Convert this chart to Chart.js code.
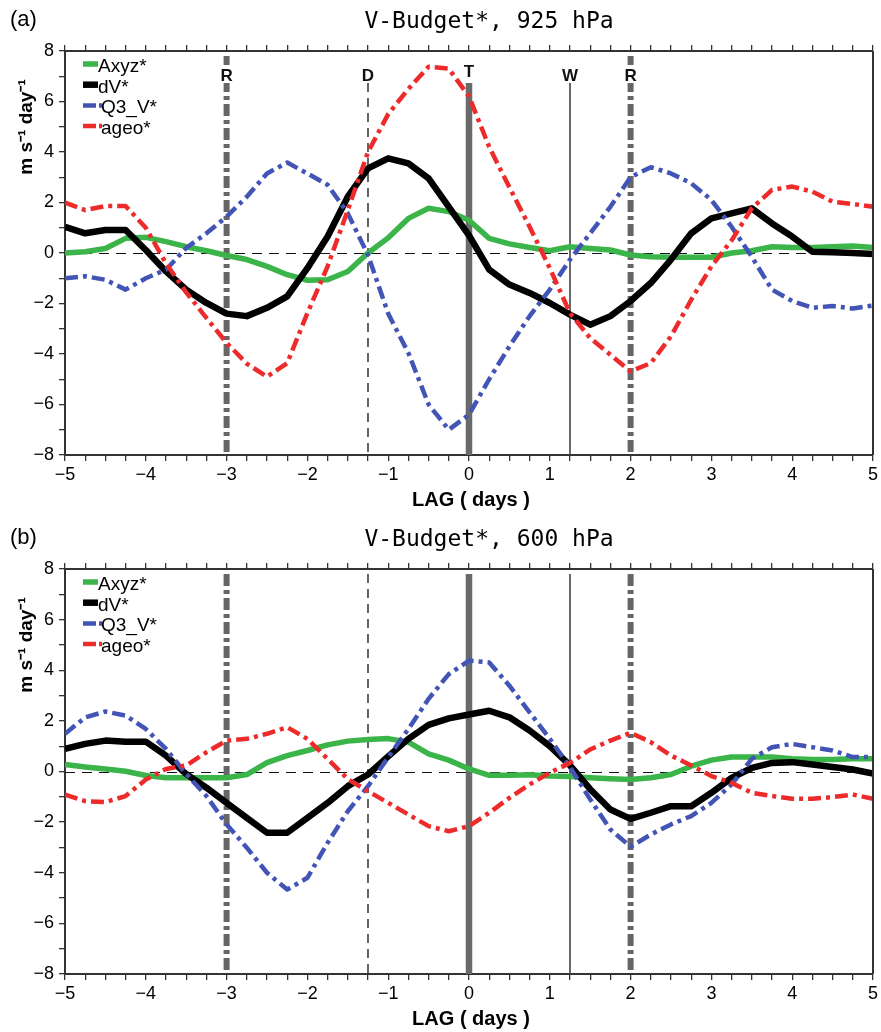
<!DOCTYPE html>
<html>
<head>
<meta charset="utf-8">
<script src="https://cdn.jsdelivr.net/npm/chart.js@4.4.0/dist/chart.umd.min.js"></script>
<style>
  body { margin: 0; background: #fff; }
  #wrap { position: relative; width: 881px; height: 1032px; }
  canvas { position: absolute; left: 0; }
</style>
</head>
<body>
<div id="wrap">
  <canvas id="chartA" width="881" height="518" style="top:0"></canvas>
  <canvas id="chartB" width="881" height="514" style="top:518px"></canvas>
</div>
<script>
// lag in days, every quarter day
const lags = [-5, -4.75, -4.5, -4.25, -4, -3.75, -3.5, -3.25, -3, -2.75, -2.5, -2.25, -2, -1.75, -1.5, -1.25,
              -1, -0.75, -0.5, -0.25, 0, 0.25, 0.5, 0.75, 1, 1.25, 1.5, 1.75, 2, 2.25, 2.5, 2.75,
              3, 3.25, 3.5, 3.75, 4, 4.25, 4.5, 4.75, 5];

// (a) 925 hPa
const axyzA = [0, 0.05, 0.18, 0.58, 0.62, 0.45, 0.25, 0.09, -0.1, -0.26, -0.53, -0.86, -1.08, -1.06, -0.73, 0,
               0.6, 1.37, 1.77, 1.64, 1.3, 0.58, 0.36, 0.22, 0.09, 0.25, 0.18, 0.12, -0.08, -0.15, -0.17, -0.17,
               -0.17, 0, 0.09, 0.25, 0.22, 0.22, 0.25, 0.28, 0.22];
const dvA = [1.04, 0.78, 0.91, 0.91, 0.12, -0.73, -1.45, -1.98, -2.4, -2.5, -2.17, -1.72, -0.6, 0.65, 2.23, 3.35,
             3.75, 3.55, 2.96, 1.83, 0.7, -0.66, -1.25, -1.58, -1.98, -2.44, -2.84, -2.5, -1.9, -1.19, -0.26, 0.78,
             1.37, 1.57, 1.77, 1.17, 0.65, 0.05, 0.03, 0, -0.04];
const q3A = [-1.0, -0.92, -1.06, -1.45, -1.0, -0.66, 0.2, 0.78, 1.44, 2.23, 3.15, 3.58, 3.15, 2.7, 1.57, -0.08,
             -2.4, -3.96, -6.0, -7.0, -6.4, -5.0, -3.7, -2.5, -1.45, -0.26, 0.78, 1.83, 3.0, 3.4, 3.15, 2.76,
             2.1, 1.04, -0.15, -1.45, -1.9, -2.17, -2.1, -2.2, -2.08];
const ageoA = [2.0, 1.7, 1.86, 1.86, 1.0, -0.41, -1.56, -2.57, -3.56, -4.38, -4.9, -4.36, -2.38, -0.53, 1.7, 4.0,
               5.5, 6.5, 7.38, 7.3, 6.2, 4.2, 2.6, 1.04, -0.6, -2.38, -3.37, -4.03, -4.69, -4.36, -3.3, -1.85,
               -0.53, 0.5, 1.77, 2.5, 2.63, 2.43, 2.03, 1.94, 1.83];

// (b) 600 hPa
const axyzB = [0.28, 0.18, 0.1, 0.01, -0.16, -0.25, -0.25, -0.25, -0.25, -0.12, 0.35, 0.63, 0.83, 1.05, 1.2, 1.26,
               1.3, 1.16, 0.7, 0.45, 0.1, -0.15, -0.15, -0.13, -0.18, -0.2, -0.25, -0.29, -0.32, -0.25, -0.12, 0.21,
               0.45, 0.57, 0.57, 0.57, 0.5, 0.47, 0.47, 0.5, 0.5];
const dvB = [0.89, 1.09, 1.22, 1.18, 1.18, 0.63, -0.1, -0.64, -1.24, -1.83, -2.42, -2.42, -1.83, -1.24, -0.58, -0.12,
             0.6, 1.29, 1.84, 2.1, 2.25, 2.4, 2.14, 1.62, 1.0, 0.24, -0.7, -1.5, -1.87, -1.63, -1.37, -1.37,
             -0.84, -0.25, 0.14, 0.34, 0.37, 0.28, 0.18, 0.08, -0.08];
const q3B = [1.49, 2.14, 2.37, 2.21, 1.68, 0.89, -0.1, -0.97, -2.09, -3.01, -4.0, -4.66, -4.2, -2.82, -1.57, -0.58,
             0.56, 1.68, 2.87, 3.85, 4.38, 4.31, 3.39, 2.34, 1.29, 0.17, -1.1, -2.29, -2.97, -2.49, -2.09, -1.76,
             -1.24, -0.51, 0.5, 0.96, 1.09, 0.96, 0.83, 0.57, 0.57];
const ageoB = [-0.91, -1.17, -1.21, -0.97, -0.32, 0.1, 0.24, 0.76, 1.22, 1.29, 1.49, 1.75, 1.29, 0.5, -0.3, -0.78,
               -1.24, -1.7, -2.16, -2.36, -2.16, -1.63, -1.04, -0.51, -0.05, 0.34, 0.87, 1.22, 1.53, 1.16, 0.63, 0.24,
               -0.18, -0.45, -0.84, -0.97, -1.08, -1.08, -1.01, -0.91, -1.08];

const seriesNames = ['Axyz*', 'dV*', 'Q3_V*', 'ageo*'];
const markerLags = [-3, -1.25, 0, 1.25, 2];
const markerNames = ['R', 'D', 'T', 'W', 'R'];

const FONT = "'Liberation Sans', Arial, sans-serif";
const seriesStyle = [
    { color: '#3bb44a', width: 5.5, dash: [] },
    { color: '#000000', width: 6.5, dash: [] },
    { color: '#4254b6', width: 4.5, dash: [13, 5, 4, 5] },
    { color: '#ee2b2b', width: 4.5, dash: [13, 5, 4, 5] }
];
const markerStyle = {
    R: { color: '#666666', width: 6, dash: [12, 4, 4, 4] },
    D: { color: '#111111', width: 1.3, dash: [9, 6] },
    T: { color: '#6a6a6a', width: 6.5, dash: [] },
    W: { color: '#444444', width: 1.6, dash: [] }
};

const fmt = v => (v < 0 ? '\u2212' + Math.abs(v) : String(v));

const decorPlugin = {
    id: 'decor',
    beforeDatasetsDraw(chart, args, opts) {
        const { ctx, chartArea: a, scales: { x, y } } = chart;
        ctx.save();
        // zero line
        const y0 = Math.round(y.getPixelForValue(0)) + 0.5;
        ctx.beginPath();
        ctx.setLineDash([10, 7]);
        ctx.lineWidth = 1.2;
        ctx.strokeStyle = '#111';
        ctx.moveTo(a.left, y0); ctx.lineTo(a.right, y0);
        ctx.stroke();
        // event lines
        markerLags.forEach((lag, i) => {
            const name = markerNames[i];
            const st = markerStyle[name];
            const px = x.getPixelForValue(lag);
            const top = (opts.labels && name !== 'R') ? a.top + 32 : a.top + 5;
            ctx.beginPath();
            ctx.setLineDash(st.dash);
            ctx.lineWidth = st.width;
            ctx.strokeStyle = st.color;
            ctx.moveTo(px, top); ctx.lineTo(px, a.bottom);
            ctx.stroke();
            if (opts.labels) {
                ctx.fillStyle = '#fff';
                ctx.fillRect(px - 8, a.top + 14, 16, 18);
                ctx.fillStyle = '#111';
                ctx.font = 'bold 17px ' + FONT;
                ctx.textAlign = 'center';
                ctx.textBaseline = 'middle';
                ctx.fillText(name, px, a.top + (name === 'T' ? 21 : 25));
            }
        });
        ctx.restore();
    },
    afterDraw(chart, args, opts) {
        const { ctx, chartArea: a } = chart;
        ctx.save();
        ctx.setLineDash([]);
        // right frame edge
        ctx.beginPath();
        ctx.lineWidth = 2;
        ctx.strokeStyle = '#333';
        ctx.moveTo(a.right, a.top); ctx.lineTo(a.right, a.bottom);
        ctx.stroke();

        // legend
        seriesNames.forEach((name, i) => {
            const st = seriesStyle[i];
            const ly = a.top + 13 + i * 20.7;
            ctx.beginPath();
            ctx.setLineDash(st.dash.length ? [13, 3, 3, 10] : []);
            ctx.lineWidth = st.width;
            ctx.strokeStyle = st.color;
            ctx.moveTo(83, ly); ctx.lineTo(st.dash.length ? 102 : 98, ly);
            ctx.stroke();
            ctx.fillStyle = '#000';
            ctx.font = '19px ' + FONT;
            ctx.textAlign = 'left';
            ctx.textBaseline = 'alphabetic';
            ctx.fillText(name, st.dash.length ? 101 : 98, ly + 8);
        });
        ctx.setLineDash([]);

        // panel tag and title
        ctx.fillStyle = '#000';
        ctx.font = '22px ' + FONT;
        ctx.textAlign = 'left';
        ctx.textBaseline = 'middle';
        ctx.fillText(opts.tag, 10, 20);
        ctx.font = "23px 'DejaVu Sans Mono', monospace";
        ctx.textAlign = 'center';
        ctx.textBaseline = 'alphabetic';
        ctx.fillText(opts.title, 489, 28);

        // axis titles
        ctx.font = 'bold 20px ' + FONT;
        ctx.textBaseline = 'middle';
        ctx.fillText('LAG ( days )', 471, a.bottom + 45);
        ctx.translate(27, a.top + 76);
        ctx.rotate(-Math.PI / 2);
        ctx.font = 'bold 19px ' + FONT;
        ctx.fillText('m s\u207B\u00B9 day\u207B\u00B9', 0, 0);
        ctx.restore();
    }
};

const gridOpts = { drawOnChartArea: false, drawTicks: true, tickLength: 6, color: '#333', lineWidth: 1.3 };
const borderOpts = { display: true, color: '#333', width: 2 };

function initPanel(canvasId, cfg) {
    const ctx = document.getElementById(canvasId);
    const datasets = cfg.series.map((vals, i) => ({
        label: seriesNames[i],
        data: lags.map((lag, k) => ({ x: lag, y: vals[k] })),
        borderColor: seriesStyle[i].color,
        borderWidth: seriesStyle[i].width,
        borderDash: seriesStyle[i].dash,
        borderJoinStyle: 'round',
        pointRadius: 0,
        tension: 0,
        fill: false,
        order: 3 - i,
        xAxisID: 'x',
        yAxisID: 'y'
    }));

    return new Chart(ctx, {
        type: 'line',
        data: { datasets },
        plugins: [decorPlugin],
        options: {
            responsive: false, animation: false, devicePixelRatio: 1,
            layout: { padding: { top: cfg.padTop, right: 7, left: 0, bottom: 0 } },
            plugins: {
                legend: { display: false },
                tooltip: { enabled: false },
                decor: { tag: cfg.tag, title: cfg.title, labels: cfg.labels }
            },
            scales: {
                x: {
                    type: 'linear', position: 'bottom', min: -5, max: 5,
                    afterFit: s => { s.height = cfg.axisH; },
                    ticks: {
                        stepSize: 0.25, autoSkip: false, maxRotation: 0, padding: 3,
                        color: '#000', font: { family: FONT, size: 18 },
                        callback: v => Number.isInteger(v) ? fmt(v) : ''
                    },
                    grid: gridOpts, border: borderOpts
                },
                xTop: {
                    type: 'linear', position: 'top', min: -5, max: 5,
                    afterFit: s => { s.height = 0; },
                    ticks: { display: false, stepSize: 0.25, autoSkip: false },
                    grid: gridOpts, border: borderOpts
                },
                y: {
                    type: 'linear', position: 'left', min: -8, max: 8,
                    afterFit: s => { s.width = 65; },
                    ticks: {
                        stepSize: 1, autoSkip: false, padding: 5,
                        color: '#000', font: { family: FONT, size: 18 },
                        callback: v => (v % 2 === 0 ? fmt(v) : '')
                    },
                    grid: gridOpts, border: borderOpts
                }
            }
        }
    });
}

if (typeof Chart !== 'undefined') {
    initPanel('chartA', { tag: '(a)', title: 'V-Budget*, 925 hPa', padTop: 51, axisH: 63, labels: true,
                          series: [axyzA, dvA, q3A, ageoA] });
    initPanel('chartB', { tag: '(b)', title: 'V-Budget*, 600 hPa', padTop: 51, axisH: 58, labels: false,
                          series: [axyzB, dvB, q3B, ageoB] });
}
</script>
</body>
</html>
